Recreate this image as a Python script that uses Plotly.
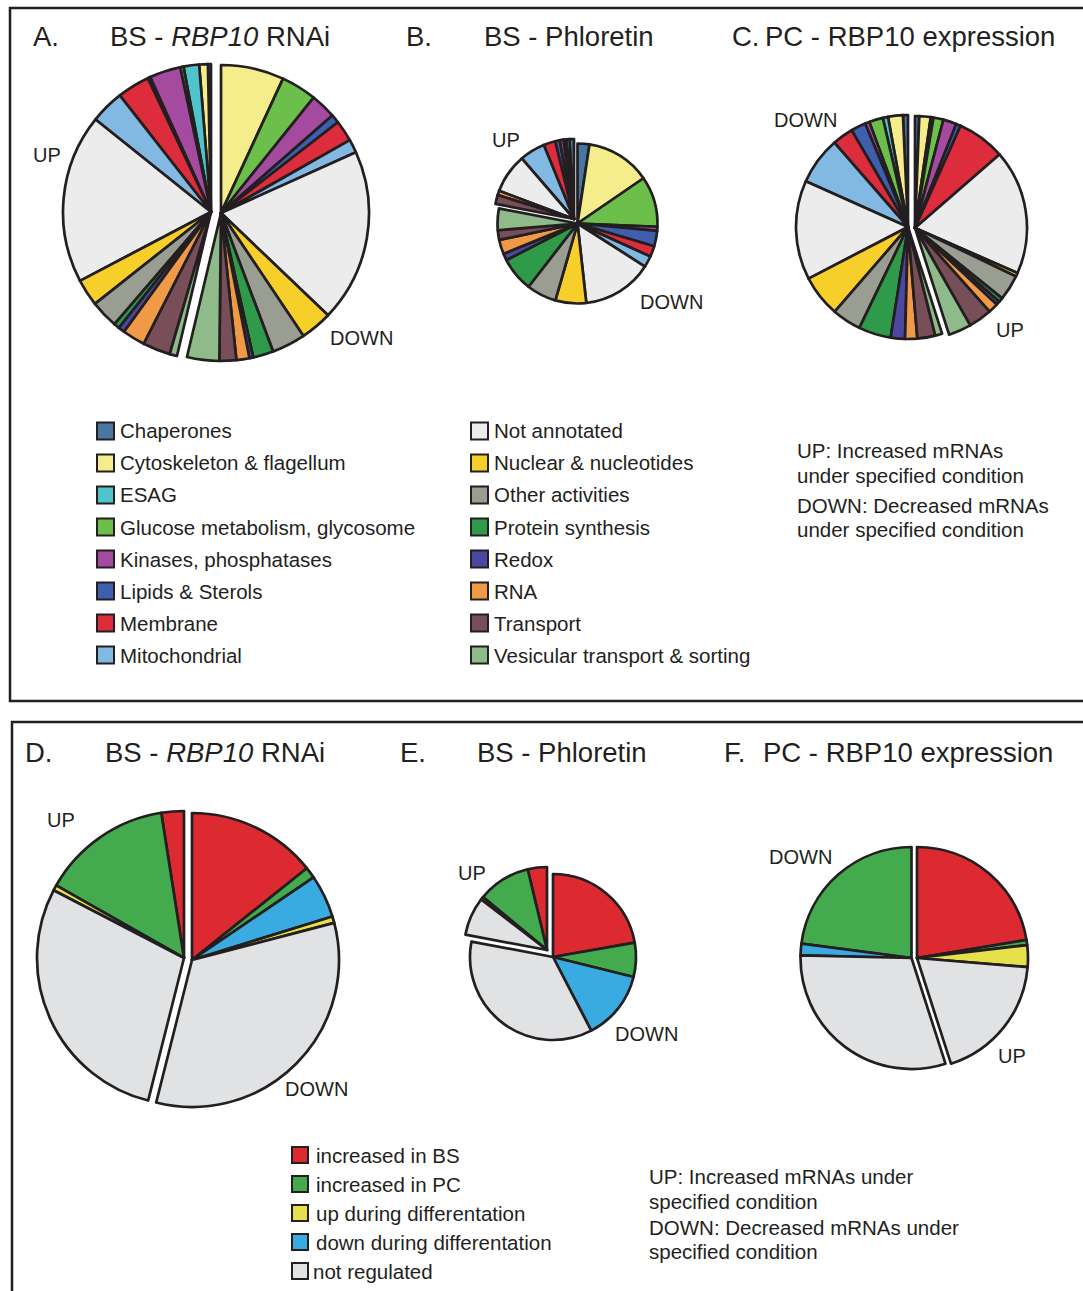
import plotly.graph_objects as go

W, H = 1083, 1291

# ---------------- data ----------------
CATS = ["Chaperones", "Cytoskeleton & flagellum", "ESAG", "Glucose metabolism, glycosome",
        "Kinases, phosphatases", "Lipids & Sterols", "Membrane", "Mitochondrial",
        "Not annotated", "Nuclear & nucleotides", "Other activities", "Protein synthesis",
        "Redox", "RNA", "Transport", "Vesicular transport & sorting"]
CAT_COLORS = ["#4a77a2", "#f5ec8c", "#4fc4cc", "#6cbf4a", "#a54b9f", "#3f5fae", "#dd2d3c",
              "#82b9e2", "#ececec", "#f7cf2b", "#9a9d91", "#2f9a4a", "#4c48a0", "#f09a48",
              "#784e58", "#8fba8a"]

A_UP = [1.2, 3.4, 6.1, 1.3, 12.2, 1.0, 12.7, 13.2, 66.2, 10.6, 10.9, 2.2, 2.5, 8.9, 10.8, 2.9]
A_DOWN = [0, 24.7, 0, 13.9, 10.0, 3.4, 8.3, 5.2, 67.7, 12.4, 13.2, 8.0, 1.5, 5.1, 6.6, 12.6]
B_UP = [3.3, 0, 2.3, 2.0, 2.8, 3.2, 8.5, 18.5, 28.4, 0, 0, 0, 0, 3.2, 6.6, 0]
B_DOWN = [8.6, 46.7, 0, 36.6, 2.9, 11.3, 7.8, 8.1, 50.9, 22.3, 21.6, 24.9, 4.9, 10.4, 7.0, 15.6]
C_UP = [2.2, 5.9, 1.4, 5.2, 6.9, 2.4, 24.9, 0, 64.7, 1.9, 13.3, 2.2, 2.0, 5.1, 12.2, 11.8]
C_DOWN = [2.6, 7.7, 2.7, 7.2, 2.3, 7.7, 10.9, 24.7, 51.5, 21.7, 15.1, 16.8, 7.4, 6.3, 9.3, 3.6]

REG = ["increased in BS", "increased in PC", "up during differentation",
       "down during differentation", "not regulated"]
REG_COLORS = ["#dc2a30", "#43ab4e", "#e5e04b", "#3aabe1", "#e1e2e4"]
REG_SLICE_ORDER = [0, 1, 3, 2, 4]

D_UP = [8.9, 51.4, 2.2, 0, 103.2]
D_DOWN = [51.3, 4.4, 2.6, 17.0, 118.6]
E_UP = [13.4, 36.8, 2.1, 0, 26.6]
E_DOWN = [79.6, 23.8, 0, 48.4, 127.5]
F_UP = [80.3, 2.7, 11.4, 0, 67.2]
F_DOWN = [0, 82.3, 0, 6.0, 108.8]

TITLES_TOP = [("A.", "BS - <i>RBP10</i> RNAi"), ("B.", "BS - Phloretin"), ("C.", "PC - RBP10 expression")]
TITLES_BOT = [("D.", "BS - <i>RBP10</i> RNAi"), ("E.", "BS - Phloretin"), ("F.", "PC - RBP10 expression")]
NOTE_TOP = ["UP: Increased mRNAs", "under specified condition",
            "DOWN: Decreased mRNAs", "under specified condition"]
NOTE_BOT = ["UP: Increased mRNAs under", "specified condition",
            "DOWN: Decreased mRNAs under", "specified condition"]

# ---------------- helpers ----------------
INK = "#231f20"
FONT = "Liberation Sans, Arial, Helvetica, sans-serif"


def px(x):
    return x / W


def py(y):
    return 1 - y / H


fig = go.Figure()


def half(vals, names, colors, order, other, cx, cy, r, direction):
    v, c, n = [], [], []
    for i in order:
        if vals[i] > 0:
            v.append(vals[i]); c.append(colors[i]); n.append(names[i])
    lw = [2.7] * len(v)
    if direction == "clockwise":
        v = v + [other]; c = c + ["rgba(0,0,0,0)"]; n = n + ["_rest"]; lw = lw + [0]
    else:
        # plotly places the first ccw slice clockwise of the start angle,
        # so the invisible remainder goes first
        v = [other] + v; c = ["rgba(0,0,0,0)"] + c; n = ["_rest"] + n; lw = [0] + lw
    fig.add_trace(go.Pie(
        values=v, labels=n, sort=False, direction=direction, rotation=0,
        marker=dict(colors=c, line=dict(color=INK, width=lw)),
        textinfo="none", hoverinfo="label+value", showlegend=False,
        domain=dict(x=[px(cx - r), px(cx + r)], y=[py(cy + r), py(cy - r)]),
    ))


def pie_pair(first, second, names, colors, order, c1, c2, r):
    s1, s2 = sum(first), sum(second)
    half(first, names, colors, order, s2, c1[0], c1[1], r, "clockwise")
    half(second, names, colors, order, s1, c2[0], c2[1], r, "counterclockwise")


cat_order = list(range(len(CATS)))
pie_pair(A_DOWN, A_UP, CATS, CAT_COLORS, cat_order, (221, 213), (211, 212), 148)
pie_pair(B_DOWN, B_UP, CATS, CAT_COLORS, cat_order, (577.5, 223.5), (574, 219), 80)
pie_pair(C_UP, C_DOWN, CATS, CAT_COLORS, cat_order, (915, 228), (908, 227), 112)
pie_pair(D_DOWN, D_UP, REG, REG_COLORS, REG_SLICE_ORDER, (192, 960), (184, 958), 147)
pie_pair(E_DOWN, E_UP, REG, REG_COLORS, REG_SLICE_ORDER, (553, 957), (547, 950), 83)
pie_pair(F_UP, F_DOWN, REG, REG_COLORS, REG_SLICE_ORDER, (917, 958), (911.5, 958), 111)

shapes = []
ann = []


def text(x, y, s, size, anchor="left"):
    ann.append(dict(x=px(x), y=py(y), xref="paper", yref="paper", text=s, showarrow=False,
                    xanchor=anchor, yanchor="middle", borderpad=0,
                    font=dict(family=FONT, size=size, color=INK)))


# frames
shapes.append(dict(type="rect", xref="paper", yref="paper", x0=px(10), x1=px(1095),
                   y0=py(701), y1=py(8), line=dict(color=INK, width=2.5), layer="below"))
shapes.append(dict(type="rect", xref="paper", yref="paper", x0=px(12), x1=px(1095),
                   y0=py(1310), y1=py(722), line=dict(color=INK, width=2.5), layer="below"))

# titles
top_pos = [(32, 109), (405, 483), (731, 764)]
for (lab, t), (xl, xt) in zip(TITLES_TOP, top_pos):
    text(xl, 37, lab, 27.5)
    text(xt, 37, t, 27.5)
bot_pos = [(24, 104), (399, 476), (723, 762)]
for (lab, t), (xl, xt) in zip(TITLES_BOT, bot_pos):
    text(xl, 752, lab, 27.5)
    text(xt, 752, t, 27.5)

# UP / DOWN labels
for x, y, s in [(47, 155, "UP"), (361, 338, "DOWN"), (506, 140, "UP"), (671, 302, "DOWN"),
                (805, 120, "DOWN"), (1010, 330, "UP"), (61, 820, "UP"), (316, 1089, "DOWN"),
                (472, 873, "UP"), (646, 1034, "DOWN"), (800, 857, "DOWN"), (1012, 1056, "UP")]:
    text(x, y, s, 20, "center")

# top legend
for i, (name, col) in enumerate(zip(CATS, CAT_COLORS)):
    colx = 97 if i < 8 else 471
    y = 431 + 32 * (i % 8)
    shapes.append(dict(type="rect", xref="paper", yref="paper", x0=px(colx), x1=px(colx + 17),
                       y0=py(y + 8.5), y1=py(y - 8.5), fillcolor=col,
                       line=dict(color=INK, width=2)))
    text(colx + 22, y, name, 20.5)

# bottom legend
for i, (name, col) in enumerate(zip(REG, REG_COLORS)):
    y = 1155 + 29 * i
    shapes.append(dict(type="rect", xref="paper", yref="paper", x0=px(292), x1=px(308),
                       y0=py(y + 8), y1=py(y - 8), fillcolor=col,
                       line=dict(color=INK, width=2)))
    text(312 if i == 4 else 315, y, name, 20.5)

# notes
for i, s in enumerate(NOTE_TOP):
    text(796, [450, 475, 505, 530][i], s, 20.5)
for i, s in enumerate(NOTE_BOT):
    text(648, [1176, 1201, 1227, 1251][i], s, 20.5)

fig.update_layout(width=W, height=H, margin=dict(l=0, r=0, t=0, b=0),
                  paper_bgcolor="white", plot_bgcolor="white",
                  shapes=shapes, annotations=ann, showlegend=False)

fig.write_html("out.html", config={"displayModeBar": False},
               post_script="document.body.style.margin='0';document.body.style.overflow='hidden';")
